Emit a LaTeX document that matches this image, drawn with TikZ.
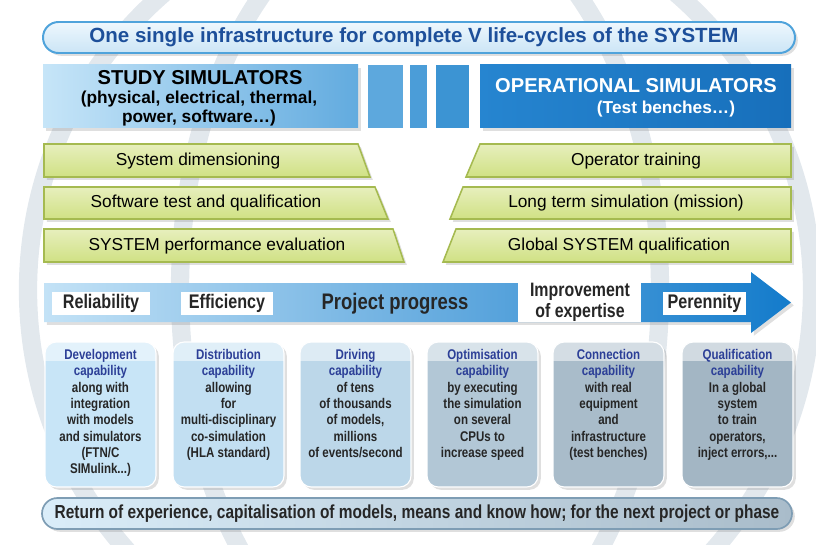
\documentclass[tikz,border=0pt]{standalone}
\usepackage{fontspec}
\setmainfont{Liberation Sans}
\newfontfamily\narrowsf[FakeStretch=0.82]{Liberation Sans}
\usetikzlibrary{shadows, positioning}

\definecolor{ringgray}{HTML}{E2E8ED}
\definecolor{titleblue}{HTML}{1D4F9A}
\definecolor{pillline}{HTML}{4FA3DB}
\definecolor{pilltop}{HTML}{EEF7FD}
\definecolor{pillbottom}{HTML}{CBE5F6}
\definecolor{studyleft}{HTML}{C6E5F8}
\definecolor{studyright}{HTML}{62ABDF}
\definecolor{stripeA}{HTML}{5DA8DD}
\definecolor{stripeB}{HTML}{4B9DD8}
\definecolor{stripeC}{HTML}{3C94D3}
\definecolor{opleft}{HTML}{2685D0}
\definecolor{opright}{HTML}{176FBB}
\definecolor{barfill}{HTML}{D0E184}
\definecolor{barlight}{HTML}{E7EFBD}
\definecolor{barline}{HTML}{A5BA50}
\definecolor{arrowleft}{HTML}{C3E2F6}
\definecolor{arrowmid}{HTML}{7DBEE9}
\definecolor{arrowright}{HTML}{137BCB}
\definecolor{capblue}{HTML}{2C3F97}
\definecolor{capA}{HTML}{C8E5F7}
\definecolor{capB}{HTML}{C2DFF2}
\definecolor{capC}{HTML}{BCD7E9}
\definecolor{capD}{HTML}{B2C7D6}
\definecolor{capE}{HTML}{A9BCCA}
\definecolor{capF}{HTML}{A3B6C4}
\definecolor{footleft}{HTML}{DAEDF9}
\definecolor{footright}{HTML}{A9BCCA}
\definecolor{footline}{HTML}{7E9DB4}

\tikzset{
  ring/.style={draw=ringgray, line width=13pt},
  softshadow/.style={drop shadow={opacity=0.25, shadow xshift=2pt, shadow yshift=-2pt}}
}
\tikzset{
  pill/.style={rounded corners=11pt, draw=pillline, line width=1.4pt, top color=pilltop, bottom color=pillbottom, softshadow},
  greenbar/.style={draw=barline, line width=1.1pt, top color=barlight, bottom color=barfill, softshadow},
  capbox/.style={rounded corners=8pt, draw=white, line width=0.8pt, softshadow}
}
\tikzset{
  titletext/.style={font=\bfseries\fontsize{14.6}{16}\selectfont, text=titleblue},
  headbig/.style={font=\bfseries\fontsize{14.3}{16}\selectfont},
  headsmall/.style={font=\bfseries\fontsize{12.3}{13.5}\selectfont, align=center},
  barlabel/.style={font=\fontsize{12.3}{14}\selectfont},
  tagtext/.style={font=\narrowsf\bfseries\fontsize{14}{14.5}\selectfont, text=black!85, inner sep=0, align=center},
  captext/.style={font=\narrowsf\bfseries\fontsize{10}{11.6}\selectfont, text=black!85, align=center, inner sep=0, anchor=north}
}
\newcommand{\capt}[1]{\textcolor{capblue}{#1}}

\begin{document}
\begin{tikzpicture}[x=0.025cm, y=-0.025cm]
  \useasboundingbox (0,0) rectangle (816,545);

  % globe rings behind everything
  \draw[ring] (420,290) circle (392);
  \draw[ring] (420,290) ellipse (240 and 392);

  % top banner
  \path[pill] (43,22) rectangle (795,53);
  \node[titletext] (title) at (414,37.5) {One single infrastructure for complete V life-cycles of the SYSTEM};

  % the two simulator families
  \path[left color=studyleft, right color=studyright, softshadow] (43,65) rectangle (358,128);
  \fill[stripeA] (368,65) rectangle (403,128);
  \fill[stripeB] (410,65) rectangle (427,128);
  \fill[stripeC] (436,65) rectangle (469,128);
  \path[left color=opleft, right color=opright, softshadow] (480,65) rectangle (791,128);
  \node[headbig] (study) at (200,78) {STUDY SIMULATORS};
  \node[headsmall] (studysub) at (199,109) {(physical, electrical, thermal,\\ power, software…)};
  \node[headbig, text=white] (oper) at (636,86) {OPERATIONAL SIMULATORS};
  \node[headsmall, text=white] (opersub) at (666,109) {(Test benches…)};

  % V of uses, left leg
  \path[greenbar] (44,144) -- (358,144) -- (370,177) -- (44,177) -- cycle;
  \path[greenbar] (44,187) -- (375,187) -- (388,219) -- (44,219) -- cycle;
  \path[greenbar] (44,229) -- (393,229) -- (404,262) -- (44,262) -- cycle;
  \node[barlabel] (dim) at (198,161) {System dimensioning};
  \node[barlabel] (soft) at (206,203) {Software test and qualification};
  \node[barlabel] (perf) at (217,246) {SYSTEM performance evaluation};

  % right leg
  \path[greenbar] (480,144) -- (791,144) -- (791,177) -- (466,177) -- cycle;
  \path[greenbar] (463,187) -- (791,187) -- (791,219) -- (450,219) -- cycle;
  \path[greenbar] (456,229) -- (791,229) -- (791,262) -- (443,262) -- cycle;
  \node[barlabel] (train) at (636,161) {Operator training};
  \node[barlabel] (mission) at (626,203) {Long term simulation (mission)};
  \node[barlabel] (global) at (619,246) {Global SYSTEM qualification};

  % progress arrow
  \path[left color=arrowleft, middle color=arrowmid, right color=arrowright, softshadow]
    (44,283) -- (751,283) -- (751,272) -- (791,302.5) -- (751,333) -- (751,322) -- (44,322) -- cycle;
  \fill[white] (52,292) rectangle (150,315);
  \fill[white] (181,292) rectangle (273,315);
  \fill[white] (518,283) rectangle (641,322);
  \fill[white] (663,292) rectangle (746,315);
  \node[tagtext] (rel) at (101,303.5) {Reliability};
  \node[tagtext] (eff) at (227,303.5) {Efficiency};
  \node[tagtext, font=\narrowsf\bfseries\fontsize{16}{18}\selectfont] (prog) at (395,303.5) {Project progress};
  \node[tagtext, font=\narrowsf\bfseries\fontsize{13.8}{14.6}\selectfont] (expert) at (580,302.5) {Improvement\\of expertise};
  \node[tagtext] (peren) at (704.5,303.5) {Perennity};

  % capability boxes
  \foreach \xl/\col in {45/capA, 173/capB, 300/capC, 427/capD, 553/capE, 682/capF} {
    \path[capbox, fill=\col] (\xl,342) rectangle ++(111,145);
    \begin{scope}
      \clip[rounded corners=8pt] (\xl,342) rectangle ++(111,145);
      \fill[white, opacity=0.5] (\xl,342) rectangle ++(111,19);
    \end{scope}
  }
  \node[captext] (dev) at (100.5,349) {\capt{Development}\\\capt{capability}\\along with\\integration\\with models\\and simulators\\(FTN/C\\SIMulink...)};
  \node[captext] (dist) at (228.5,349) {\capt{Distribution}\\\capt{capability}\\allowing\\for\\multi-disciplinary\\co-simulation\\(HLA standard)};
  \node[captext] (drive) at (355.5,349) {\capt{Driving}\\\capt{capability}\\of tens\\of thousands\\of models,\\millions\\of events/second};
  \node[captext] (optim) at (482.5,349) {\capt{Optimisation}\\\capt{capability}\\by executing\\the simulation\\on several\\CPUs to\\increase speed};
  \node[captext] (conn) at (608.5,349) {\capt{Connection}\\\capt{capability}\\with real\\equipment\\and\\infrastructure\\(test benches)};
  \node[captext] (qual) at (737.5,349) {\capt{Qualification}\\\capt{capability}\\In a global\\system\\to train\\operators,\\inject errors,...};

  % feedback banner
  \path[rounded corners=11pt, draw=footline, line width=1.2pt, left color=footleft, right color=footright, softshadow] (42,498) rectangle (792,529);
  \node[tagtext, font=\narrowsf\bfseries\fontsize{13.4}{15}\selectfont] (rex) at (417,513.5) {Return of experience, capitalisation of models, means and know how; for the next project or phase};
\end{tikzpicture}
\end{document}
